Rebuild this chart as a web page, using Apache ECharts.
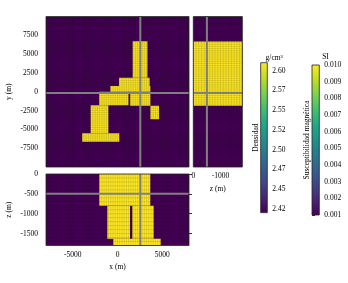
<!DOCTYPE html>
<html>
<head>
<meta charset="utf-8">
<script src="https://cdn.jsdelivr.net/npm/echarts@6/dist/echarts.min.js"></script>
<style>
  html, body { margin: 0; padding: 0; background: #fff; }
  #chart { width: 348px; height: 283px; }
</style>
</head>
<body>
<div id="chart"></div>
<script>
// extents of the mesh (m)
const xRange = [-8000, 8000]
const yRange = [-10000, 10000]
const zRange = [-1800, 0]
const meshStep = { x: 250, y: 250, z: 100 }

// slice positions (m)
const sliceX = 2550
const sliceY = -150
const sliceZ = -500

// body in plan view (z = sliceZ): [x0, x1, y0, y1]
const planBlocks = [
  [1700, 3350, 1850, 6700],
  [170, 3600, 770, 1850],
  [-800, 3680, 0, 770],
  [-2050, 1230, -1800, 0],
  [1420, 3680, -1850, 0],
  [-3000, -1020, -5530, -1800],
  [-3950, 200, -6650, -5530],
  [3680, 4650, -3650, -1850],
]
// body in section (y = sliceY): [x0, x1, z0, z1]
const sectionBlocks = [
  [-2040, 3670, -800, 0],
  [-1140, 1400, -1630, -800],
  [1660, 4050, -1630, -800],
  [-470, 4830, -1800, -1630],
]
// body in side view (x = sliceX): [z0, z1, y0, y1]
const sideBlocks = [
  [-1800, 0, -1850, 6680],
]

const xTicks = [-5000, 0, 5000]
const yTicks = [-7500, -5000, -2500, 0, 2500, 5000, 7500]
const zTicks = [0, -500, -1000, -1500]
const zSideTicks = [0, -1000]

const densityRange = [2.42, 2.61]
const densityTicks = [2.425, 2.45, 2.475, 2.5, 2.525, 2.55, 2.575, 2.6]
const densityLabels = ['2.42', '2.45', '2.47', '2.50', '2.52', '2.55', '2.57', '2.60']
const suscRange = [0.001, 0.010]
const suscTicks = [0.001, 0.002, 0.003, 0.004, 0.005, 0.006, 0.007, 0.008, 0.009, 0.010]

const bgColor = '#440154'
const bodyColor = '#fde725'
const viridis = ['#440154', '#482475', '#414487', '#355f8d', '#2a788e', '#21918c',
  '#22a884', '#44bf70', '#7ad151', '#bddf26', '#fde725']

const chart = echarts.init(document.getElementById('chart'))

const font = { fontFamily: 'Liberation Serif', fontSize: 7.5, color: '#000' }
const tickStyle = { color: '#000', width: 0.8 }
const plain = v => String(v)

function edges(range, step) {
  const out = []
  for (let v = range[0]; v <= range[1]; v += step) out.push([v])
  return out
}

function rectSeries(xi, yi, data, fill) {
  return {
    type: 'custom', xAxisIndex: xi, yAxisIndex: yi, silent: true, clip: true,
    data: data,
    renderItem: function (params, api) {
      const p0 = api.coord([api.value(0), api.value(2)])
      const p1 = api.coord([api.value(1), api.value(3)])
      return {
        type: 'rect',
        shape: {
          x: Math.min(p0[0], p1[0]), y: Math.min(p0[1], p1[1]),
          width: Math.abs(p1[0] - p0[0]), height: Math.abs(p1[1] - p0[1])
        },
        style: { fill: typeof fill === 'string' ? fill : fill() }
      }
    }
  }
}

function lineSeries(xi, yi, data, vertical, span, style, z) {
  return {
    type: 'custom', xAxisIndex: xi, yAxisIndex: yi, silent: true, clip: true, z: z,
    data: data,
    renderItem: function (params, api) {
      const v = api.value(0)
      const a = vertical ? api.coord([v, span[0]]) : api.coord([span[0], v])
      const b = vertical ? api.coord([v, span[1]]) : api.coord([span[1], v])
      return {
        type: 'line',
        shape: { x1: a[0], y1: a[1], x2: b[0], y2: b[1] },
        style: style
      }
    }
  }
}

const meshStyle = { stroke: 'rgba(0,0,0,0.22)', lineWidth: 0.5 }
const crossStyle = { stroke: '#808080', lineWidth: 2 }

// top of the bar is yellow, bottom purple
function gradient() {
  const n = viridis.length - 1
  const stops = viridis.slice().reverse().map((c, i) => ({ offset: i / n, color: c }))
  return new echarts.graphic.LinearGradient(0, 0, 0, 1, stops)
}

const series = [
  // plan view
  rectSeries(0, 0, [[xRange[0], xRange[1], yRange[0], yRange[1]]], bgColor),
  rectSeries(0, 0, planBlocks, bodyColor),
  lineSeries(0, 0, edges(xRange, meshStep.x), true, yRange, meshStyle, 3),
  lineSeries(0, 0, edges(yRange, meshStep.y), false, xRange, meshStyle, 3),
  lineSeries(0, 0, [[sliceX]], true, yRange, crossStyle, 4),
  lineSeries(0, 0, [[sliceY]], false, xRange, crossStyle, 4),
  // side view
  rectSeries(1, 1, [[zRange[0], zRange[1], yRange[0], yRange[1]]], bgColor),
  rectSeries(1, 1, sideBlocks, bodyColor),
  lineSeries(1, 1, edges(zRange, meshStep.z), true, yRange, meshStyle, 3),
  lineSeries(1, 1, edges(yRange, meshStep.y), false, zRange, meshStyle, 3),
  lineSeries(1, 1, [[sliceZ]], true, yRange, crossStyle, 4),
  lineSeries(1, 1, [[sliceY]], false, zRange, crossStyle, 4),
  // section
  rectSeries(3, 2, [[xRange[0], xRange[1], zRange[0], zRange[1]]], bgColor),
  rectSeries(3, 2, sectionBlocks, bodyColor),
  lineSeries(3, 2, edges(xRange, meshStep.x), true, zRange, meshStyle, 3),
  lineSeries(3, 2, edges(zRange, meshStep.z), false, xRange, meshStyle, 3),
  lineSeries(3, 2, [[sliceX]], true, zRange, crossStyle, 4),
  lineSeries(3, 2, [[sliceZ]], false, xRange, crossStyle, 4),
  // colorbars
  rectSeries(4, 4, [[0, 1, densityRange[0], densityRange[1]]], gradient),
  rectSeries(5, 6, [[0, 1, suscRange[0], suscRange[1]]], gradient),
]

const frame = { show: true, borderColor: '#222', borderWidth: 0.8, backgroundColor: 'transparent', z: 10 }

function hiddenAxis(gi) {
  return { gridIndex: gi, type: 'value', min: 0, max: 1, show: false }
}

const labelFont = { fontFamily: font.fontFamily, fontSize: font.fontSize, color: '#000' }

chart.setOption({
  animation: false,
  textStyle: font,
  grid: [
    Object.assign({ left: 46, top: 16.5, width: 143, height: 150.5 }, frame),
    Object.assign({ left: 193.3, top: 16.5, width: 49, height: 150.5 }, frame),
    Object.assign({ left: 46, top: 174, width: 143, height: 71.5 }, frame),
    Object.assign({ left: 260.7, top: 62.7, width: 6.6, height: 150 }, frame),
    Object.assign({ left: 312, top: 65, width: 7.3, height: 150 }, frame),
  ],
  xAxis: [
    {
      gridIndex: 0, type: 'value', min: xRange[0], max: xRange[1], position: 'top',
      axisLine: { show: false }, splitLine: { show: false },
      axisTick: { show: true, customValues: xTicks, length: 3, lineStyle: tickStyle },
      axisLabel: { show: false }
    },
    {
      gridIndex: 1, type: 'value', min: zRange[0], max: zRange[1], inverse: true, position: 'top',
      axisLine: { show: false }, splitLine: { show: false },
      axisTick: { show: true, customValues: zSideTicks, length: 3, lineStyle: tickStyle },
      axisLabel: { show: false }
    },
    {
      gridIndex: 1, type: 'value', min: zRange[0], max: zRange[1], inverse: true, position: 'bottom',
      axisLine: { show: false }, splitLine: { show: false }, axisTick: { show: false },
      axisLabel: Object.assign({ customValues: zSideTicks, margin: 5, formatter: plain }, labelFont),
      name: 'z (m)', nameLocation: 'middle', nameGap: 13,
      nameTextStyle: labelFont
    },
    {
      gridIndex: 2, type: 'value', min: xRange[0], max: xRange[1], position: 'bottom',
      axisLine: { show: false }, splitLine: { show: false },
      axisTick: { show: true, customValues: xTicks, length: 3, lineStyle: tickStyle },
      axisLabel: Object.assign({ customValues: xTicks, margin: 6, formatter: plain }, labelFont),
      name: 'x (m)', nameLocation: 'middle', nameGap: 18,
      nameTextStyle: labelFont
    },
    hiddenAxis(3),
    hiddenAxis(4),
  ],
  yAxis: [
    {
      gridIndex: 0, type: 'value', min: yRange[0], max: yRange[1], position: 'left',
      axisLine: { show: false }, splitLine: { show: false },
      axisTick: { show: true, customValues: yTicks, length: 3, lineStyle: tickStyle },
      axisLabel: Object.assign({ customValues: yTicks, margin: 8, formatter: plain }, labelFont),
      name: 'y (m)', nameLocation: 'middle', nameGap: 33,
      nameTextStyle: labelFont
    },
    {
      gridIndex: 1, type: 'value', min: yRange[0], max: yRange[1], position: 'right',
      axisLine: { show: false }, splitLine: { show: false },
      axisTick: { show: true, customValues: yTicks, length: 3, lineStyle: tickStyle },
      axisLabel: { show: false }
    },
    {
      gridIndex: 2, type: 'value', min: zRange[0], max: zRange[1], position: 'left',
      axisLine: { show: false }, splitLine: { show: false },
      axisTick: { show: true, customValues: zTicks, length: 3, lineStyle: tickStyle },
      axisLabel: Object.assign({ customValues: zTicks, margin: 8, formatter: plain }, labelFont),
      name: 'z (m)', nameLocation: 'middle', nameGap: 33,
      nameTextStyle: labelFont
    },
    {
      gridIndex: 2, type: 'value', min: zRange[0], max: zRange[1], position: 'right',
      axisLine: { show: false }, splitLine: { show: false },
      axisTick: { show: true, customValues: zTicks, length: 3, lineStyle: tickStyle },
      axisLabel: { show: false }
    },
    {
      gridIndex: 3, type: 'value', min: densityRange[0], max: densityRange[1], position: 'right',
      axisLine: { show: false }, splitLine: { show: false },
      axisTick: { show: true, customValues: densityTicks, length: 3, lineStyle: tickStyle },
      axisLabel: Object.assign({
        customValues: densityTicks, margin: 5,
        formatter: function (v) {
          let best = 0
          densityTicks.forEach((t, i) => { if (Math.abs(t - v) < Math.abs(densityTicks[best] - v)) best = i })
          return densityLabels[best]
        }
      }, labelFont),
      name: 'g/cm³', nameLocation: 'end', nameGap: 1,
      nameTextStyle: Object.assign({ padding: [0, 0, 0, 27] }, labelFont)
    },
    {
      gridIndex: 3, type: 'value', min: densityRange[0], max: densityRange[1], position: 'left',
      axisLine: { show: false }, splitLine: { show: false }, axisTick: { show: false }, axisLabel: { show: false },
      name: 'Densidad', nameLocation: 'middle', nameGap: 1,
      nameTextStyle: labelFont
    },
    {
      gridIndex: 4, type: 'value', min: suscRange[0], max: suscRange[1], position: 'right',
      axisLine: { show: false }, splitLine: { show: false },
      axisTick: { show: true, customValues: suscTicks, length: 3, lineStyle: tickStyle },
      axisLabel: Object.assign({ customValues: suscTicks, margin: 5, formatter: v => v.toFixed(3) }, labelFont),
      name: 'SI', nameLocation: 'end', nameGap: 4,
      nameTextStyle: Object.assign({ padding: [0, 0, 0, 27] }, labelFont)
    },
    {
      gridIndex: 4, type: 'value', min: suscRange[0], max: suscRange[1], position: 'left',
      axisLine: { show: false }, splitLine: { show: false }, axisTick: { show: false }, axisLabel: { show: false },
      name: 'Susceptibilidad magnética', nameLocation: 'middle', nameGap: 1,
      nameTextStyle: labelFont
    },
  ],
  series: series
})
</script>
</body>
</html>
